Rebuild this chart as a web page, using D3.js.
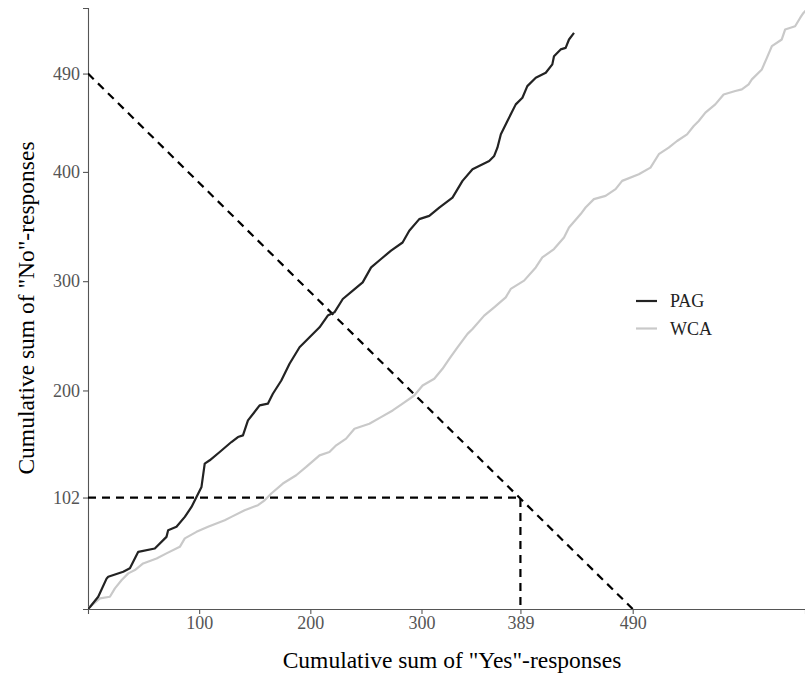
<!DOCTYPE html>
<html>
<head>
<meta charset="utf-8">
<script src="https://cdn.jsdelivr.net/npm/d3@7"></script>
<style>
  body { margin: 0; background: #fff; }
  svg { display: block; font-family: "Liberation Serif", "DejaVu Serif", serif; }
</style>
</head>
<body>
<svg class="canvas" width="805" height="674"></svg>
<script>
// cumulative sums: [yes, no]
const pag = [
  [0, 0], [1.8, 1.8], [9.2, 11.2], [16.8, 28], [18.2, 29.5], [31.7, 34.1], [37.7, 37.2],
  [45.2, 52.3], [60.1, 55.4], [70.6, 66], [72.1, 72.1], [79.6, 75.2], [87.1, 84.3],
  [93.1, 93.4], [97.6, 102.6], [102.1, 111.7], [105, 133.1], [109.5, 136.1], [118.5, 143.7],
  [129, 152.8], [134.9, 157.4], [139.4, 158.9], [143.9, 172.6], [154.4, 186.3], [161.8, 187.9],
  [166.3, 197], [173.9, 209.1], [181.3, 224.4], [190.3, 239.5], [199.3, 248.7], [208.3, 257.8],
  [215.7, 268.5], [221.7, 271.5], [229.2, 283.7], [238.2, 291.3], [247.1, 298.9], [254.7, 312.6],
  [263.6, 320.3], [272.6, 327.9], [283, 335.4], [289, 346.1], [298, 356.8], [307, 359.8],
  [316, 367.4], [327.9, 376.5], [336.9, 391.8], [345.9, 402.5], [360.9, 410], [365.4, 414.6],
  [368.3, 422.2], [371.4, 434.4], [377.3, 446.6], [384.8, 461.8], [390.8, 467.9], [395.2, 478.5],
  [402.8, 486.1], [411.8, 490.7], [417.7, 498.4], [419.2, 505.9], [425.2, 512.1], [429.7, 513.5],
  [432.7, 521.2], [437.2, 527.2]
];
const wca = [
  [0, 0], [1.8, 2.1], [10.8, 9.8], [19.7, 11.2], [24.2, 18.9], [30.3, 26.5], [36.2, 32.6],
  [42.2, 35.6], [49.6, 41.7], [61.7, 46.3], [70.6, 50.9], [82.6, 56.9], [87.1, 64.6],
  [97.6, 70.6], [108, 75.2], [123, 81.3], [129, 84.3], [140.9, 90.4], [152.9, 95], [158.9, 99.5],
  [164.9, 105.7], [175.3, 114.8], [187.3, 122.4], [196.3, 130], [208.3, 140.6], [217.2, 143.7],
  [223.3, 149.8], [232.2, 155.9], [239.7, 165], [253.1, 169.6], [263.6, 175.6], [274.1, 181.7],
  [283, 187.9], [293.5, 195.4], [301, 204.6], [311.5, 210.7], [318.9, 219.8], [325, 228.9],
  [332.4, 239.5], [341.4, 251.8], [345.9, 256.3], [356.4, 268.5], [365.4, 276.1], [375.8, 285.2],
  [380.3, 292.9], [392.3, 300.5], [402.8, 312.6], [408.7, 321.7], [419.2, 329.4], [428.2, 340],
  [432.7, 349.1], [443.2, 361.4], [447.6, 367.4], [455.1, 375.1], [465.6, 378.1], [474.6, 384.2],
  [480.5, 391.8], [495.5, 397.9], [506, 403.9], [513.5, 416.2], [522.4, 422.2], [529.9, 428.3],
  [538.9, 434.4], [544.9, 442], [549.4, 446.6], [555.4, 454.2], [564.3, 461.8], [571.8, 470.9],
  [582.3, 474], [588.2, 475.5], [594.3, 480.1], [597.2, 484.7], [606.2, 493.8], [610.7, 504.4],
  [615.2, 515.1], [624.1, 521.2], [627.1, 530.3], [636.1, 533.3], [640.6, 540.9], [643.6, 545.5],
  [648, 550]
];
const seriesNames = ['PAG', 'WCA'];
const xTicks = [100, 200, 300, 389, 490];
const yTicks = [102, 200, 300, 400, 490];
const total = 490;
const cutX = 389;
const cutY = 102;

const svg = d3.select('.canvas');
const m = { left: 88, right: 805, top: 8, bottom: 609 };

const xScale = d3.scaleLinear().domain([0, 645]).range([m.left, m.right]);
const yScale = d3.scaleLinear().domain([0, 550]).range([m.bottom, m.top]);

svg.append('defs').append('clipPath').attr('id', 'clip')
  .append('rect').attr('x', m.left).attr('y', m.top)
  .attr('width', m.right - m.left).attr('height', m.bottom - m.top);

// axes
const xAxis = d3.axisBottom(xScale).tickValues(xTicks).tickSize(5).tickPadding(2).tickFormat(d3.format('d'));
const yAxis = d3.axisLeft(yScale).tickValues(yTicks).tickSize(5).tickPadding(3).tickFormat(d3.format('d'));
const gx = svg.append('g').attr('transform', `translate(0, ${m.bottom})`).call(xAxis);
const gy = svg.append('g').attr('transform', `translate(${m.left}, 0)`).call(yAxis);
[gx, gy].forEach((g) => {
  g.select('.domain').attr('stroke', '#555').attr('stroke-width', 1.1);
  g.selectAll('.tick line').attr('stroke', '#555').attr('stroke-width', 1.1);
  g.selectAll('.tick text').attr('fill', '#555').style('font-size', '18px')
    .style('font-family', '"Liberation Serif", serif');
});

// axis titles
svg.append('text')
  .attr('x', 452)
  .attr('y', 668)
  .attr('text-anchor', 'middle')
  .style('font-size', '23.5px')
  .text('Cumulative sum of "Yes"-responses');
svg.append('text')
  .attr('transform', `translate(34, 308) rotate(-90)`)
  .attr('text-anchor', 'middle')
  .style('font-size', '23.5px')
  .text('Cumulative sum of "No"-responses');

const plot = svg.append('g').attr('clip-path', 'url(#clip)');

// reference lines
const dashed = (pts) => plot.append('path')
  .attr('d', d3.line().x((d) => xScale(d[0])).y((d) => yScale(d[1]))(pts))
  .attr('fill', 'none').attr('stroke', '#000').attr('stroke-width', 2.2)
  .attr('stroke-dasharray', '8,6');
dashed([[0, total], [total, 0]]);
dashed([[0, cutY], [cutX, cutY], [cutX, 0]]);

// curves
const colours = { PAG: '#232323', WCA: '#c9c9c9' };
const line = d3.line().x((d) => xScale(d[0])).y((d) => yScale(d[1]));
[['WCA', wca], ['PAG', pag]].forEach(([name, data]) => {
  plot.append('path')
    .attr('d', line(data))
    .attr('fill', 'none')
    .attr('stroke', colours[name])
    .attr('stroke-width', 2.2)
    .attr('stroke-linejoin', 'round');
});

// legend
const legend = svg.append('g').attr('transform', 'translate(636, 301)');
seriesNames.forEach((name, i) => {
  legend.append('line')
    .attr('x1', 0).attr('x2', 21).attr('y1', i * 27.5).attr('y2', i * 27.5)
    .attr('stroke', colours[name]).attr('stroke-width', 2.2);
  legend.append('text')
    .attr('x', 34).attr('y', i * 27.5 + 6)
    .style('font-size', '18px')
    .attr('fill', '#222')
    .text(name);
});
</script>
</body>
</html>
